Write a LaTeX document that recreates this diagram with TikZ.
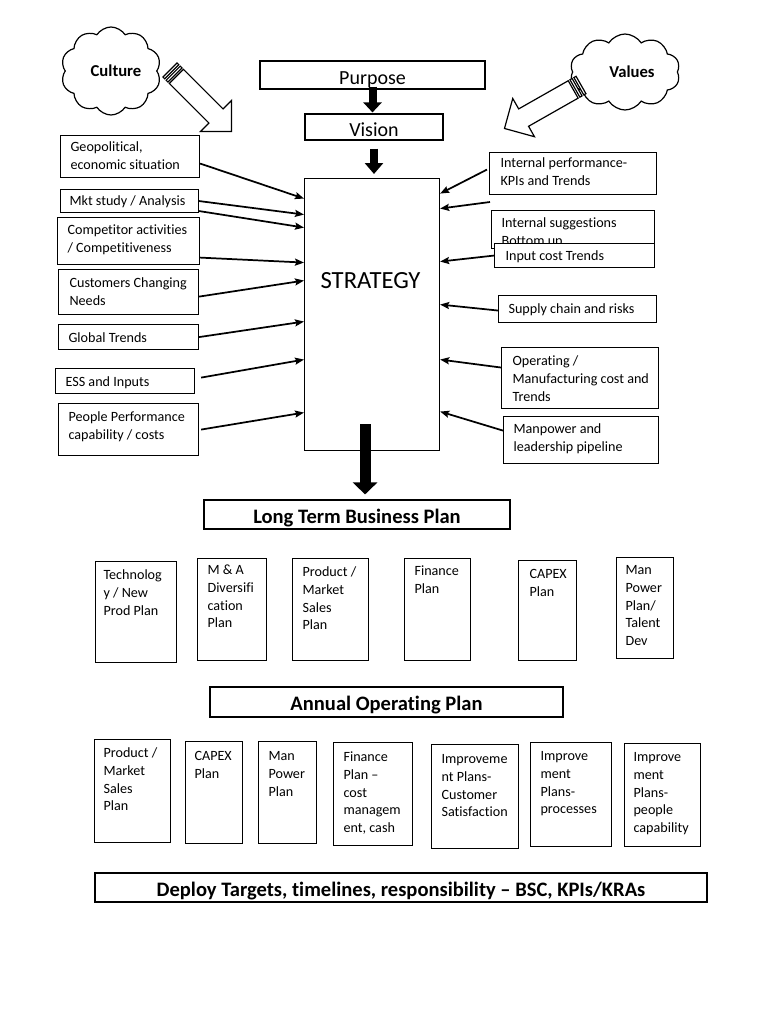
\documentclass[tikz,border=0pt]{standalone}
\usepackage{fontspec}
\setmainfont{Carlito}[Ligatures=NoCommon]
\usetikzlibrary{shapes.symbols,arrows.meta}
\newlength\upx
\setlength\upx{0.75pt}
% name, x, y, w, h, padL, padT, extra options, lines
\newcommand\bx[9]{\node[box,#8] (#1) at (#2,#3) {\parbox[c][#5\upx][t]{#4\upx}{\vspace*{#7\upx}\hspace*{#6\upx}\begin{tabular}[t]{@{}l@{}}#9\end{tabular}}};}
% striped arrow: tail x, tail y, angle, length
\newcommand\pencil[4]{%
\begin{scope}[shift={(#1,#2)}, rotate=#3]
  \draw[pen] (0,-10) rectangle (2.5,10);
  \draw[pen] (4.5,-10) rectangle (7,10);
  \draw[pen] (9,-10) -- (#4-22,-10) -- (#4-22,-22) -- (#4,0) -- (#4-22,22) -- (#4-22,10) -- (9,10) -- cycle;
\end{scope}}
\tikzset{
  box/.style={draw=black, line width=0.85pt, fill=white, anchor=north west, inner sep=0pt, font=\fontsize{10.6}{13.3}\selectfont},
  cbox/.style={draw=black, line width=0.85pt, fill=white, inner sep=0pt, text height=14pt, text depth=0pt, font=\fontsize{15}{18}\selectfont},
  tbox/.style={cbox, text height=13pt, font=\fontsize{15.4}{18}\selectfont\bfseries},
  feed/.style={line width=1.3pt, -{Stealth[length=6.75pt,width=5.25pt,inset=1.1pt]}},
  cloudy/.style={cloud, cloud puffs=10, cloud puff arc=115, cloud ignores aspect, draw=black, line width=0.9pt, fill=white, inner sep=0pt, font=\fontsize{12.5}{15}\selectfont\bfseries},
  pen/.style={draw=black, line width=0.9pt, fill=white, line join=miter},
}
\begin{document}
\begin{tikzpicture}[x=0.75pt,y=-0.75pt]
\fill[white] (0,0) rectangle (768,1024);
\useasboundingbox (0,0) rectangle (768,1024);

% clouds and striped arrows
\node[cloudy, minimum width=75pt, minimum height=66pt] (culture) at (111,71) {\hspace*{7.5pt}Culture};
\node[cloudy, minimum width=82.5pt, minimum height=57pt] (values) at (625,72) {\hspace*{10.5pt}Values};
\pencil{170}{70}{-45}{87}
\pencil{581}{85}{209.6}{88}

% top chain
\node[cbox, minimum width=168.75pt, minimum height=21pt] (purpose) at (372.5,75) {Purpose};
\node[cbox, minimum width=103.5pt, minimum height=19.5pt] (vision) at (374,127) {Vision};
\bx{strat}{304}{178}{135}{272}{16}{89.5}{font=\fontsize{18.5}{22}\selectfont}{STRATEGY}

% left inputs
\bx{geo}{60}{135}{139}{42}{10}{3.4}{}{Geopolitical,\\economic situation}
\bx{mkt}{60}{189}{138}{23}{9}{3.9}{}{Mkt study / Analysis}
\bx{comp}{57}{217}{142}{47}{10}{4.9}{}{Competitor activities\\/ Competitiveness}
\bx{cust}{58}{269}{140}{45}{11}{5.9}{}{Customers Changing\\Needs}
\bx{glob}{58}{324}{140}{25}{10}{5.4}{}{Global Trends}
\bx{ess}{55}{368}{139}{25}{10}{5.4}{}{ESS and Inputs}
\bx{people}{58}{403}{140}{52}{10}{5.9}{}{People Performance\\capability / costs}

% right inputs
\bx{ip}{489}{152}{167}{42}{11}{3}{}{Internal performance-\\KPIs and Trends}
\bx{sug}{491}{210}{163}{38}{10}{4.9}{}{Internal suggestions\\Bottom up}
\bx{inp}{494}{243}{160}{24}{11}{4.9}{}{Input cost Trends}
\bx{supply}{498}{295}{158}{27}{10}{5.7}{}{Supply chain and risks}
\bx{oper}{501}{347}{157}{61}{11}{5.9}{}{Operating /\\Manufacturing cost and\\Trends}
\bx{manp}{503}{416}{155}{47}{10}{4.9}{}{Manpower and\\leadership pipeline}

% plan levels
\node[tbox, minimum width=229.5pt, minimum height=21.75pt] (ltbp) at (357,514.5) {Long Term Business Plan};
\bx{tech}{95}{561}{81}{101}{8}{5.7}{}{Technolog\\y / New\\Prod Plan}
\bx{ma}{197}{558}{69}{102}{10}{3.7}{}{M \& A\\Diversifi\\cation\\Plan}
\bx{prodA}{292}{558}{76}{102}{10}{5.7}{}{Product /\\Market\\Sales\\Plan}
\bx{finA}{404}{558}{66}{102}{10}{4.7}{}{Finance\\Plan}
\bx{capexA}{518}{560}{58}{100}{11}{5.7}{}{CAPEX\\Plan}
\bx{mpA}{616}{557}{57}{101}{9}{4.7}{}{Man\\Power\\Plan/\\Talent\\Dev}

\node[tbox, minimum width=264.75pt, minimum height=22.5pt] (aop) at (386.5,702) {Annual Operating Plan};
\bx{prodB}{94}{739}{76}{103}{9}{5.7}{}{Product /\\Market\\Sales\\Plan}
\bx{capexB}{185}{741}{57}{102}{9}{6.7}{}{CAPEX\\Plan}
\bx{mpB}{258}{741}{58}{102}{10}{6.7}{}{Man\\Power\\Plan}
\bx{finB}{333}{742}{79}{103}{10}{6.7}{}{Finance\\Plan --\\cost\\managem\\ent, cash}
\bx{impC}{431}{744}{87}{104}{10}{6.7}{}{Improveme\\nt Plans-\\Customer\\Satisfaction}
\bx{impP}{530}{742}{81}{104}{10}{5.7}{}{Improve\\ment\\Plans-\\processes}
\bx{impQ}{624}{743}{76}{103}{9}{5.7}{}{Improve\\ment\\Plans-\\people\\capability}

\node[tbox, minimum width=459pt, minimum height=21.75pt] (deploy) at (401,887.5) {Deploy Targets, timelines, responsibility -- BSC, KPIs/KRAs};

% fat arrows
\coordinate (pv) at ([yshift=2.25pt]purpose.south);
\draw[line width=6pt, -{Triangle[length=7.5pt,width=13.5pt]}, shorten >=0.75pt] (pv) -- (pv |- vision.north);
\coordinate (vs) at ([yshift=-6pt]vision.south);
\draw[line width=6pt, -{Triangle[length=8.25pt,width=13.5pt]}, shorten >=3pt] (vs) -- (vs |- strat.north);
\coordinate (sl) at ([xshift=-5.25pt,yshift=20.25pt]strat.south);
\draw[line width=8.25pt, -{Triangle[length=9pt,width=18pt]}, shorten >=3.75pt] (sl) -- (sl |- ltbp.north);

% left feeds
\draw[feed] ([yshift=-5.25pt]geo.east) -- ([yshift=87pt]strat.west);
\draw[feed] (mkt.east) -- ([yshift=75pt]strat.west);
\draw[feed] ([yshift=-7.5pt]mkt.east) -- ([yshift=65.25pt]strat.west);
\draw[feed] ([yshift=-12.4pt]comp.east) -- ([yshift=39pt]strat.west);
\draw[feed] ([yshift=-3.4pt]cust.east) -- ([yshift=25.5pt]strat.west);
\draw[feed] (glob.east) -- ([yshift=-5.25pt]strat.west);
\draw[feed] ([xshift=4.5pt,yshift=2.6pt]ess.east) -- ([yshift=-33.75pt]strat.west);
\draw[feed] ([xshift=1.5pt]people.east) -- ([yshift=-73.5pt]strat.west);

% right feeds
\coordinate (sugtail) at (490,202);
\draw[feed] ([xshift=-1.5pt,yshift=3pt]ip.west) -- ([yshift=90.75pt]strat.east);
\draw[feed] (sugtail) -- ([yshift=79.5pt]strat.east);
\draw[feed] (inp.west) -- ([yshift=39.75pt]strat.east);
\draw[feed] ([yshift=-1.1pt]supply.west) -- ([yshift=7.5pt]strat.east);
\draw[feed] ([yshift=7.9pt]oper.west) -- ([yshift=-33.75pt]strat.east);
\draw[feed] ([yshift=7.1pt]manp.west) -- ([yshift=-72.75pt]strat.east);
\end{tikzpicture}
\end{document}
